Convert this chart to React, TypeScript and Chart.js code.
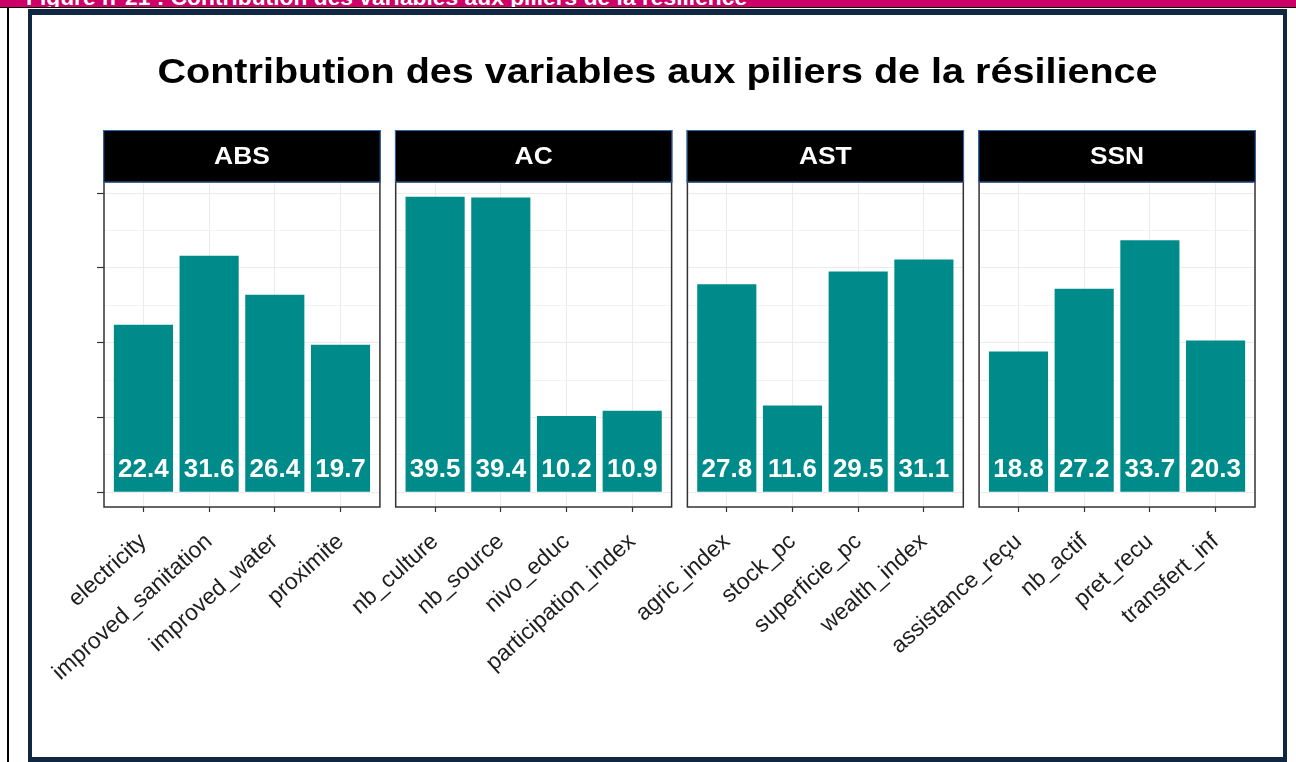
import React, { useEffect, useRef } from "react";
import { Chart, registerables } from "chart.js";

Chart.register(...registerables);

// ---------- data ----------
const pillars = ["ABS", "AC", "AST", "SSN"];
const absVars = ["electricity", "improved_sanitation", "improved_water", "proximite"];
const absValues = [22.4, 31.6, 26.4, 19.7];
const acVars = ["nb_culture", "nb_source", "nivo_educ", "participation_index"];
const acValues = [39.5, 39.4, 10.2, 10.9];
const astVars = ["agric_index", "stock_pc", "superficie_pc", "wealth_index"];
const astValues = [27.8, 11.6, 29.5, 31.1];
const ssnVars = ["assistance_reçu", "nb_actif", "pret_recu", "transfert_inf"];
const ssnValues = [18.8, 27.2, 33.7, 20.3];
const yTicks = [0, 5, 10, 15, 20, 25, 30, 35, 40];
const chartTitle = "Contribution des variables aux piliers de la résilience";
const headerText = "Figure n°21 : Contribution des variables aux piliers de la résilience";

// ---------- layout constants (facet geometry in x units) ----------
const PANEL_SPAN = 4.2; // 4 categories + 0.6 expansion each side
const PANEL_GAP = 0.24;
const FIRST_OFFSET = 0.6;
const Y_MIN = -1.975;
const Y_MAX = 41.475;

const groupVars = [absVars, acVars, astVars, ssnVars];
const groupValues = [absValues, acValues, astValues, ssnValues];

const xPositions: number[] = [];
const xLabels: string[] = [];
const barValues: number[] = [];
groupVars.forEach((vars, p) => {
  vars.forEach((v, i) => {
    xPositions.push(p * (PANEL_SPAN + PANEL_GAP) + FIRST_OFFSET + i);
    xLabels.push(v);
    barValues.push(groupValues[p][i]);
  });
});

const BAR_COLOR = "#008b8b";
const FONT = '"Liberation Sans", Arial, sans-serif';

const facetPlugin = {
  id: "facets",
  beforeDatasetsDraw(chart: any) {
    const { ctx, chartArea, scales } = chart;
    const xs = scales.x;
    ctx.save();
    ctx.fillStyle = "#ffffff";
    for (let p = 0; p < pillars.length - 1; p++) {
      const r = xs.getPixelForValue(p * (PANEL_SPAN + PANEL_GAP) + PANEL_SPAN);
      const l = xs.getPixelForValue((p + 1) * (PANEL_SPAN + PANEL_GAP));
      ctx.fillRect(r, chartArea.top - 1, l - r, chartArea.bottom - chartArea.top + 2);
    }
    ctx.restore();
  },
  afterDatasetsDraw(chart: any) {
    const { ctx, chartArea, scales } = chart;
    const xs = scales.x;
    const ys = scales.y;
    const meta = chart.getDatasetMeta(0);
    ctx.save();
    // value labels
    ctx.fillStyle = "#ffffff";
    ctx.font = `bold 26px ${FONT}`;
    ctx.textAlign = "center";
    ctx.textBaseline = "middle";
    const ly = ys.getPixelForValue(3);
    meta.data.forEach((el: any, i: number) => {
      ctx.fillText(barValues[i].toFixed(1), el.x, ly);
    });
    // panel borders + strips
    const stripH = 52;
    pillars.forEach((name, p) => {
      const l = xs.getPixelForValue(p * (PANEL_SPAN + PANEL_GAP));
      const r = xs.getPixelForValue(p * (PANEL_SPAN + PANEL_GAP) + PANEL_SPAN);
      ctx.strokeStyle = "#333333";
      ctx.lineWidth = 1.5;
      ctx.strokeRect(l, chartArea.top, r - l, chartArea.bottom - chartArea.top);
      ctx.fillStyle = "#000000";
      ctx.fillRect(l - 0.75, chartArea.top - stripH, r - l + 1.5, stripH);
      ctx.strokeStyle = "#2a6bb8";
      ctx.lineWidth = 1;
      ctx.strokeRect(l - 0.25, chartArea.top - stripH + 0.5, r - l + 0.5, stripH - 0.5);
      ctx.save();
      ctx.translate((l + r) / 2, chartArea.top - stripH / 2 + 1);
      ctx.scale(1.1, 1);
      ctx.fillStyle = "#ffffff";
      ctx.font = `bold 24px ${FONT}`;
      ctx.textAlign = "center";
      ctx.textBaseline = "middle";
      ctx.fillText(name, 0, 0);
      ctx.restore();
    });
    // title
    ctx.save();
    ctx.translate(chart.width / 2, 58);
    ctx.scale(1.13, 1);
    ctx.fillStyle = "#000000";
    ctx.font = `bold 35px ${FONT}`;
    ctx.textAlign = "center";
    ctx.textBaseline = "middle";
    ctx.fillText(chartTitle, 0, 0);
    ctx.restore();
    ctx.restore();
  },
};

function FacetChart() {
  const ref = useRef<HTMLCanvasElement | null>(null);
  useEffect(() => {
    if (!ref.current) return;
    const chart = new Chart(ref.current, {
      type: "bar",
      data: {
        datasets: [
          {
            data: xPositions.map((x, i) => ({ x, y: barValues[i] })) as any,
            backgroundColor: BAR_COLOR,
            borderWidth: 0,
            barPercentage: 0.9,
            categoryPercentage: 1,
          },
        ],
      },
      options: {
        animation: false,
        responsive: false,
        maintainAspectRatio: false,
        layout: { padding: { left: 62, right: 28, top: 167, bottom: 0 } },
        plugins: {
          legend: { display: false },
          tooltip: { enabled: false },
          title: { display: false },
        },
        scales: {
          x: {
            type: "linear",
            min: 0,
            max: 4 * PANEL_SPAN + 3 * PANEL_GAP,
            offset: false,
            afterBuildTicks: (s: any) => {
              s.ticks = xPositions.map((v) => ({ value: v }));
            },
            afterFit: (s: any) => {
              s.height = 250;
              s.paddingLeft = 0;
              s.paddingRight = 0;
            },
            ticks: {
              autoSkip: false,
              minRotation: 42,
              maxRotation: 42,
              padding: 8,
              color: "#1e1e1e",
              font: { family: FONT, size: 23, lineHeight: 2.15 },
              callback: (_v: any, i: number) => xLabels[i],
            },
            grid: {
              offset: false,
              color: "#ebebeb",
              lineWidth: 1,
              drawTicks: true,
              tickLength: 5,
              tickColor: "#333333",
              tickWidth: 1.2,
            },
            border: { display: false },
          },
          y: {
            type: "linear",
            min: Y_MIN,
            max: Y_MAX,
            afterBuildTicks: (s: any) => {
              s.ticks = yTicks.map((v) => ({ value: v }));
            },
            afterFit: (s: any) => {
              s.width = 10;
            },
            ticks: { display: false },
            grid: {
              color: "#ebebeb",
              lineWidth: (c: any) => (c.tick && c.tick.value % 10 === 0 ? 1 : 0.6),
              drawTicks: true,
              tickLength: 7,
              tickColor: (c: any) => (c.tick && c.tick.value % 10 === 0 ? "#333333" : "rgba(0,0,0,0)"),
              tickWidth: 1.2,
            },
            border: { display: false },
          },
        },
      } as any,
      plugins: [facetPlugin],
    });
    return () => chart.destroy();
  }, []);
  return (
    <canvas
      ref={ref}
      width={1251}
      height={742}
      style={{ position: "absolute", left: 32, top: 15, width: 1251, height: 742 }}
    />
  );
}

export default function App() {
  return (
    <div
      style={{
        position: "fixed",
        left: 0,
        top: 0,
        width: 1296,
        height: 762,
        background: "#ffffff",
        overflow: "hidden",
      }}
    >
      <div
        style={{
          position: "absolute",
          left: 0,
          top: 0,
          width: 1296,
          height: 7,
          background: "#cc0066",
          overflow: "hidden",
        }}
      >
        <div
          style={{
            position: "absolute",
            left: 26,
            top: -16,
            color: "#ffffff",
            font: `bold 22.8px ${FONT}`,
            whiteSpace: "nowrap",
          }}
        >
          {headerText}
        </div>
      </div>
      <div style={{ position: "absolute", left: 0, top: 7, width: 1296, height: 1, background: "#000" }} />
      <div style={{ position: "absolute", left: 7, top: 7, width: 2, height: 755, background: "#000" }} />
      <div
        style={{
          position: "absolute",
          left: 28,
          top: 9,
          width: 1259,
          height: 753,
          boxSizing: "border-box",
          borderStyle: "solid",
          borderColor: "#0f2741",
          borderWidth: "6px 4px 5px 4px",
          background: "#ffffff",
        }}
      />
      <FacetChart />
    </div>
  );
}
